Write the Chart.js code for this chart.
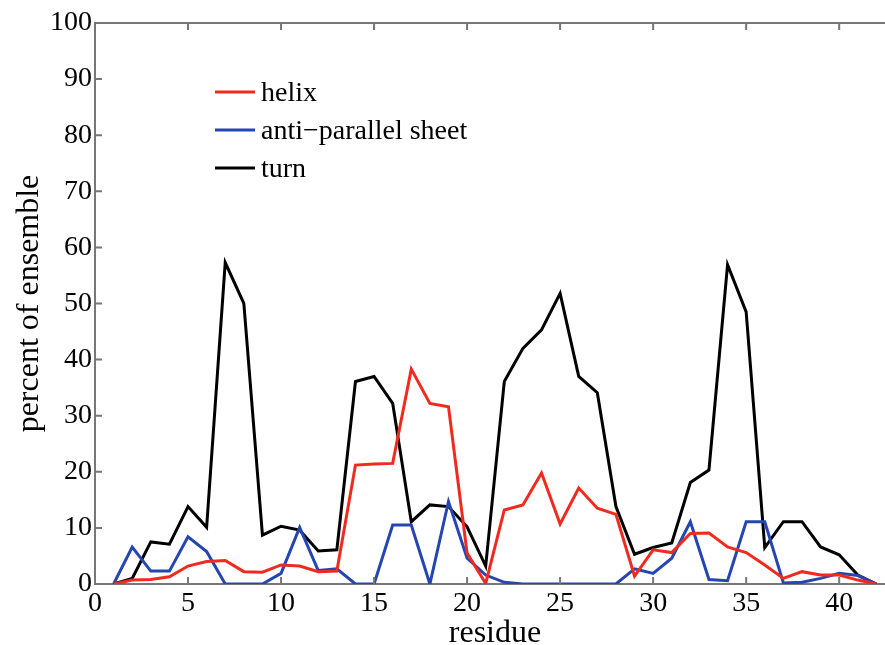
<!DOCTYPE html>
<html>
<head>
<meta charset="utf-8">
<script src="https://cdn.jsdelivr.net/npm/chart.js@4.4.0/dist/chart.umd.min.js"></script>
<style>
html, body { margin: 0; padding: 0; background: #fff; overflow: hidden; }
#wrap { width: 900px; height: 645px; position: relative; }
</style>
</head>
<body>
<div id="wrap"><canvas id="chart"></canvas></div>
<script>
var residues = [1,2,3,4,5,6,7,8,9,10,11,12,13,14,15,16,17,18,19,20,21,
                22,23,24,25,26,27,28,29,30,31,32,33,34,35,36,37,38,39,40,41,42];
var helix = [0,0.7,0.8,1.3,3.2,4.0,4.2,2.2,2.1,3.4,3.2,2.2,2.3,21.2,21.4,21.5,38.3,32.2,31.6,5.5,0.1,
             13.2,14.1,19.8,10.7,17.1,13.5,12.4,1.4,6.1,5.6,9.0,9.1,6.6,5.6,3.4,1.0,2.2,1.6,1.6,0.7,0];
var sheet = [0,6.6,2.3,2.3,8.4,5.8,0,0,0,1.9,10.1,2.4,2.7,0,0,10.5,10.5,0,14.7,4.6,1.6,
             0.3,0,0,0,0,0,0,2.7,1.9,4.6,11.1,0.8,0.6,11.1,11.1,0.2,0.3,1.0,1.9,1.5,0];
var turn = [0,1.0,7.5,7.1,13.8,10.1,57.3,50.0,8.7,10.3,9.6,5.9,6.1,36.1,37.0,32.2,11.1,14.1,13.8,10.2,3.2,
            36.1,42.0,45.3,51.8,37.0,34.1,13.8,5.3,6.5,7.3,18.1,20.3,56.9,48.5,6.5,11.1,11.1,6.6,5.2,1.6,0];
var seriesNames = ['helix', 'anti\u2212parallel sheet', 'turn'];
var seriesColors = ['#f02a1e', '#2546b0', '#000000'];
var xTicks = [0,5,10,15,20,25,30,35,40];
var yTicks = [0,10,20,30,40,50,60,70,80,90,100];

var serif = "'Liberation Serif', 'Times New Roman', serif";

function toPoints(values)
{
    return residues.map(function(r, i) { return { x: r, y: values[i] }; });
}

// frame on top plus inward tick marks, and the legend
var framePlugin = {
    id: 'frame',
    afterDraw: function(chart) {
        var ctx = chart.ctx;
        var a = chart.chartArea;
        var xs = chart.scales.x, ys = chart.scales.y;
        ctx.save();
        ctx.strokeStyle = '#777';
        ctx.lineWidth = 2;
        ctx.beginPath();
        ctx.moveTo(a.left, a.top);
        ctx.lineTo(a.right, a.top);
        ctx.moveTo(a.right, a.top);
        ctx.lineTo(a.right, a.bottom);
        xTicks.forEach(function(v) {
            var px = xs.getPixelForValue(v);
            ctx.moveTo(px, a.bottom);
            ctx.lineTo(px, a.bottom - 7);
            ctx.moveTo(px, a.top);
            ctx.lineTo(px, a.top + 7);
        });
        yTicks.forEach(function(v) {
            var py = ys.getPixelForValue(v);
            ctx.moveTo(a.left, py);
            ctx.lineTo(a.left + 7, py);
        });
        ctx.stroke();

        // legend
        ctx.font = '28px ' + serif;
        ctx.textBaseline = 'middle';
        ctx.textAlign = 'left';
        var lx = a.left + 120, ly = a.top + 69;
        chart.data.datasets.forEach(function(ds, i) {
            var y = ly + i * 38;
            ctx.strokeStyle = ds.borderColor;
            ctx.lineWidth = 3;
            ctx.beginPath();
            ctx.moveTo(lx, y);
            ctx.lineTo(lx + 40, y);
            ctx.stroke();
            ctx.fillStyle = '#000';
            ctx.fillText(ds.label, lx + 46, y + 2);
        });
        ctx.restore();
    }
};

var chart = new Chart(document.getElementById('chart'), {
    type: 'line',
    data: {
        datasets: [helix, sheet, turn].map(function(vals, i) {
            return {
                label: seriesNames[i],
                data: toPoints(vals),
                borderColor: seriesColors[i],
                backgroundColor: seriesColors[i],
                borderWidth: 3,
                pointRadius: 0,
                tension: 0,
                fill: false
            };
        })
    },
    options: {
        responsive: true,
        maintainAspectRatio: false,
        animation: false,
        layout: { padding: { top: 23, right: 5, left: 0, bottom: 0 } },
        plugins: {
            legend: { display: false },
            tooltip: { enabled: false }
        },
        scales: {
            x: {
                type: 'linear',
                min: 0,
                max: 43,
                afterBuildTicks: function(scale) {
                    scale.ticks = xTicks.map(function(v) { return { value: v }; });
                },
                afterFit: function(scale) { scale.height = 61; },
                ticks: { color: '#000', font: { family: serif, size: 28 }, padding: 3, maxRotation: 0 },
                grid: { drawOnChartArea: false, drawTicks: false },
                border: { display: true, color: '#777', width: 2 },
                title: { display: true, text: 'residue', color: '#000', font: { family: serif, size: 32 }, padding: { top: 0, bottom: -8 } }
            },
            y: {
                min: 0,
                max: 100,
                afterBuildTicks: function(scale) {
                    scale.ticks = yTicks.map(function(v) { return { value: v }; });
                },
                afterFit: function(scale) { scale.width = 95; },
                ticks: { color: '#000', font: { family: serif, size: 28 }, padding: 3 },
                grid: { drawOnChartArea: false, drawTicks: false },
                border: { display: true, color: '#777', width: 2 },
                title: { display: true, text: 'percent of ensemble', color: '#000', font: { family: serif, size: 32 }, padding: { top: 10, bottom: 0 } }
            }
        }
    },
    plugins: [framePlugin]
});
</script>
</body>
</html>
